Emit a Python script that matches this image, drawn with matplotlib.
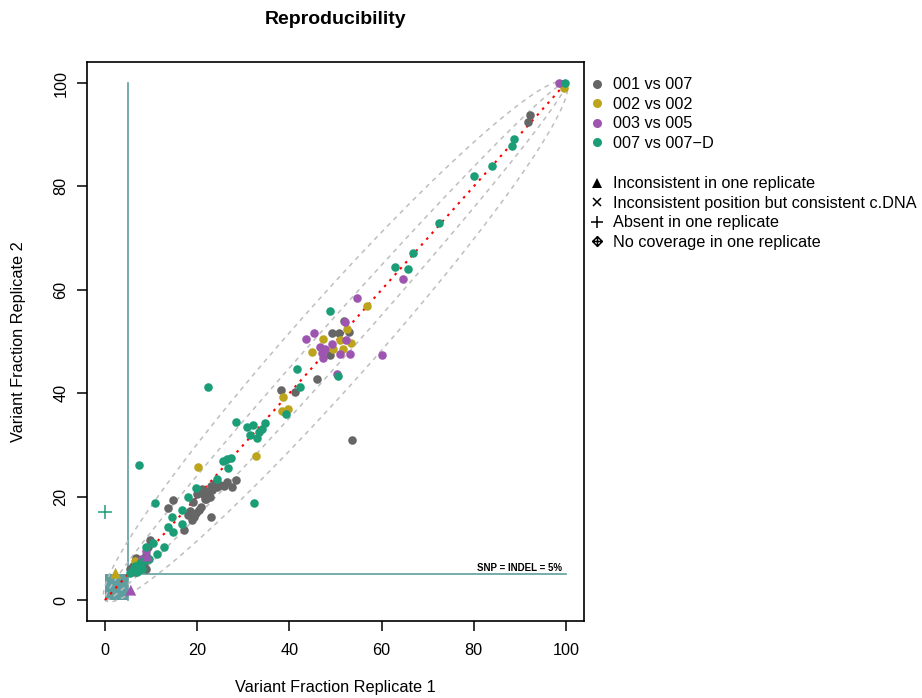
import matplotlib.pyplot as plt
import numpy as np
from matplotlib.path import Path
from matplotlib.lines import Line2D
from matplotlib.patches import Rectangle

plt.rcParams['font.family'] = ['Liberation Sans', 'DejaVu Sans']

# Variant fractions (%), replicate 1 vs replicate 2
gray_x = [5.5, 6.0, 6.5, 7.0, 7.5, 8.0, 8.5, 9.0, 9.3, 9.8, 7.2, 8.8, 6.8,
          13.7, 14.8, 17.1, 18.0, 18.5, 19.2, 19.8, 20.3, 20.8, 21.3, 21.8,
          22.3, 22.8, 23.0, 23.3, 23.8, 24.3, 25.0, 25.8, 26.5, 27.5, 28.4,
          19.0, 20.0, 21.0, 22.0, 18.8, 23.1,
          38.1, 41.3, 45.9, 48.8, 49.2, 50.8, 51.8, 53.0, 53.6, 91.8, 92.2, 99.2]
gray_y = [6.0, 6.5, 5.5, 7.5, 7.0, 8.0, 7.2, 8.8, 10.3, 11.6, 6.2, 6.0, 8.2,
          17.9, 19.3, 13.5, 16.5, 17.2, 16.0, 16.8, 17.5, 18.0, 20.5, 19.5,
          21.0, 20.0, 22.0, 21.2, 22.6, 21.8, 22.3, 22.0, 22.8, 21.8, 23.2,
          19.0, 20.5, 21.5, 19.5, 15.5, 16.1,
          40.6, 40.2, 42.7, 47.4, 51.7, 51.7, 54.0, 51.9, 30.9, 92.5, 93.8, 99.8]

yellow_x = [6.5, 20.1, 32.7, 38.5, 39.6, 38.7, 44.8, 47.4, 49.5, 51.0, 51.6,
            52.4, 53.3, 56.8, 99.6]
yellow_y = [7.5, 25.8, 27.9, 36.6, 36.9, 39.3, 48.0, 50.4, 48.5, 50.2, 48.6,
            52.5, 49.8, 56.9, 99.0]

purple_x = [8.0, 9.0, 43.7, 45.3, 46.6, 47.0, 47.2, 47.7, 49.2, 50.3, 51.0,
            52.1, 52.3, 53.1, 54.6, 60.2, 64.7, 98.5]
purple_y = [8.0, 9.5, 50.4, 51.7, 48.9, 47.7, 46.8, 48.5, 49.5, 43.7, 47.6,
            53.8, 50.3, 47.6, 58.5, 47.3, 62.1, 100.0]

green_x = [7.4, 22.4, 10.8, 32.3, 28.4, 30.7, 31.5, 32.2, 33.0, 33.5, 34.0,
           34.7, 25.5, 26.5, 26.6, 27.3, 24.2, 19.7, 18.1, 14.6, 16.6, 13.6,
           14.8, 16.6, 12.7, 11.2, 9.0, 10.5, 7.6, 6.1, 5.5, 6.5, 7.0, 8.0,
           8.5, 9.5, 39.2, 42.3, 41.6, 50.6, 48.8, 62.9, 65.7, 66.9, 72.4,
           80.0, 83.9, 88.4, 88.8, 99.8]
green_y = [26.1, 41.3, 18.8, 18.7, 34.5, 33.5, 32.0, 33.8, 31.3, 32.5, 33.0,
           34.2, 26.8, 27.3, 25.5, 27.4, 23.5, 21.6, 20.0, 16.1, 14.8, 14.2,
           13.2, 17.4, 10.3, 9.0, 10.3, 11.0, 7.2, 5.8, 5.2, 6.5, 5.5, 6.0,
           7.5, 8.0, 35.9, 41.3, 44.6, 43.3, 55.9, 64.4, 64.0, 67.1, 72.9,
           82.1, 83.9, 87.9, 89.2, 100.0]

# special cases
tri_x = [2.3, 5.6, 9.2]
tri_y = [5.2, 1.9, 8.5]
tri_col = ['yellow', 'purple', 'purple']
absent_x = [0.0]
absent_y = [17.0]

threshold = 5
ticks = [0, 20, 40, 60, 80, 100]
ellipse_minor = [3.5, 8.3]

colors = {'gray': '#666666', 'yellow': '#BCA51C', 'purple': '#9E55B0',
          'green': '#1B9E77'}
teal = '#5F9EA0'

fig = plt.figure(figsize=(9.22, 6.98), dpi=100)
ax = fig.add_axes([0.0939, 0.1107, 0.5399, 0.8000])

# threshold box and lines
ax.add_patch(Rectangle((0, 0), threshold, threshold, facecolor=teal,
                       edgecolor='none', zorder=1))
ax.plot([threshold, threshold], [0, 100], color=teal, lw=1.2, zorder=2)
ax.plot([threshold, 100], [threshold, threshold], color=teal, lw=1.2, zorder=2)
ax.text(99.2, threshold + 0.2, 'SNP = INDEL = 5%', fontsize=7.0,
        fontweight='bold', ha='right', va='bottom', zorder=6)

# concordance ellipses around the diagonal
t = np.linspace(0, 2 * np.pi, 400)
a = 50 * np.sqrt(2)
for b in ellipse_minor:
    u = a * np.cos(t)
    v = b * np.sin(t)
    ax.plot(50 + (u - v) / np.sqrt(2), 50 + (u + v) / np.sqrt(2),
            color='#BEBEBE', lw=1.1, dashes=(3, 3), zorder=3)
ax.plot([0, 100], [0, 100], color='red', lw=1.5, dashes=(1.2, 2.6), zorder=4)

s = 38
ax.scatter(gray_x, gray_y, s=s, color=colors['gray'], lw=0, zorder=5)
ax.scatter(yellow_x, yellow_y, s=s, color=colors['yellow'], lw=0, zorder=5)
ax.scatter(purple_x, purple_y, s=s, color=colors['purple'], lw=0, zorder=5)
ax.scatter(green_x, green_y, s=s, color=colors['green'], lw=0, zorder=5)
ax.scatter(tri_x, tri_y, s=60, marker='^', color=[colors[c] for c in tri_col],
           lw=0, zorder=6)
ax.plot(absent_x, absent_y, '+', color=colors['green'], ms=10, mew=1.1, zorder=6)

ax.set_xlim(-4, 104)
ax.set_ylim(-4, 104)
ax.set_xticks(ticks)
ax.set_yticks(ticks)
ax.tick_params(labelsize=11.7, length=7, width=1.1)
ax.tick_params(axis='x', pad=9)
ax.tick_params(axis='y', pad=6)
for lab in ax.get_yticklabels():
    lab.set_rotation(90)
    lab.set_va('center')
for sp in ax.spines.values():
    sp.set_linewidth(1.2)
ax.set_xlabel('Variant Fraction Replicate 1', fontsize=11.7, labelpad=16)
ax.set_ylabel('Variant Fraction Replicate 2', fontsize=11.7, labelpad=20)

fig.text(335.5 / 922, 1 - 20 / 698, 'Reproducibility', fontsize=14,
         fontweight='bold', ha='center', va='center')

# legends in the right margin
h1 = [Line2D([], [], ls='none', marker='o', ms=6.5, mew=0, color=colors[k])
      for k in ['gray', 'yellow', 'purple', 'green']]
l1 = ['001 vs 007', '002 vs 002', '003 vs 005', '007 vs 007\u2212D']
leg1 = ax.legend(h1, l1, loc='upper left', bbox_to_anchor=(0.6387, 0.8890),
                 bbox_transform=fig.transFigure, frameon=False, fontsize=11.7,
                 borderaxespad=0, borderpad=0, handlelength=1.0,
                 handletextpad=0.48, labelspacing=0.27)
ax.add_artist(leg1)

pch9 = Path([(0, 1), (1, 0), (0, -1), (-1, 0), (0, 1), (0, 1), (0, -1),
             (-1, 0), (1, 0)],
            [Path.MOVETO, Path.LINETO, Path.LINETO, Path.LINETO, Path.CLOSEPOLY,
             Path.MOVETO, Path.LINETO, Path.MOVETO, Path.LINETO])
h2 = [Line2D([], [], ls='none', marker='^', ms=7, mew=0, color='black'),
      Line2D([], [], ls='none', marker='x', ms=6, mew=1.1, color='black'),
      Line2D([], [], ls='none', marker='+', ms=8, mew=1.1, color='black'),
      Line2D([], [], ls='none', marker=pch9, ms=7, mew=1.1, color='black',
             mfc='none')]
l2 = ['Inconsistent in one replicate',
      'Inconsistent position but consistent c.DNA',
      'Absent in one replicate', 'No coverage in one replicate']
ax.legend(h2, l2, loc='upper left', bbox_to_anchor=(0.6387, 0.7472),
          bbox_transform=fig.transFigure, frameon=False, fontsize=11.7,
          borderaxespad=0, borderpad=0, handlelength=1.0,
          handletextpad=0.48, labelspacing=0.27)

fig.savefig('out.png', dpi=100)
